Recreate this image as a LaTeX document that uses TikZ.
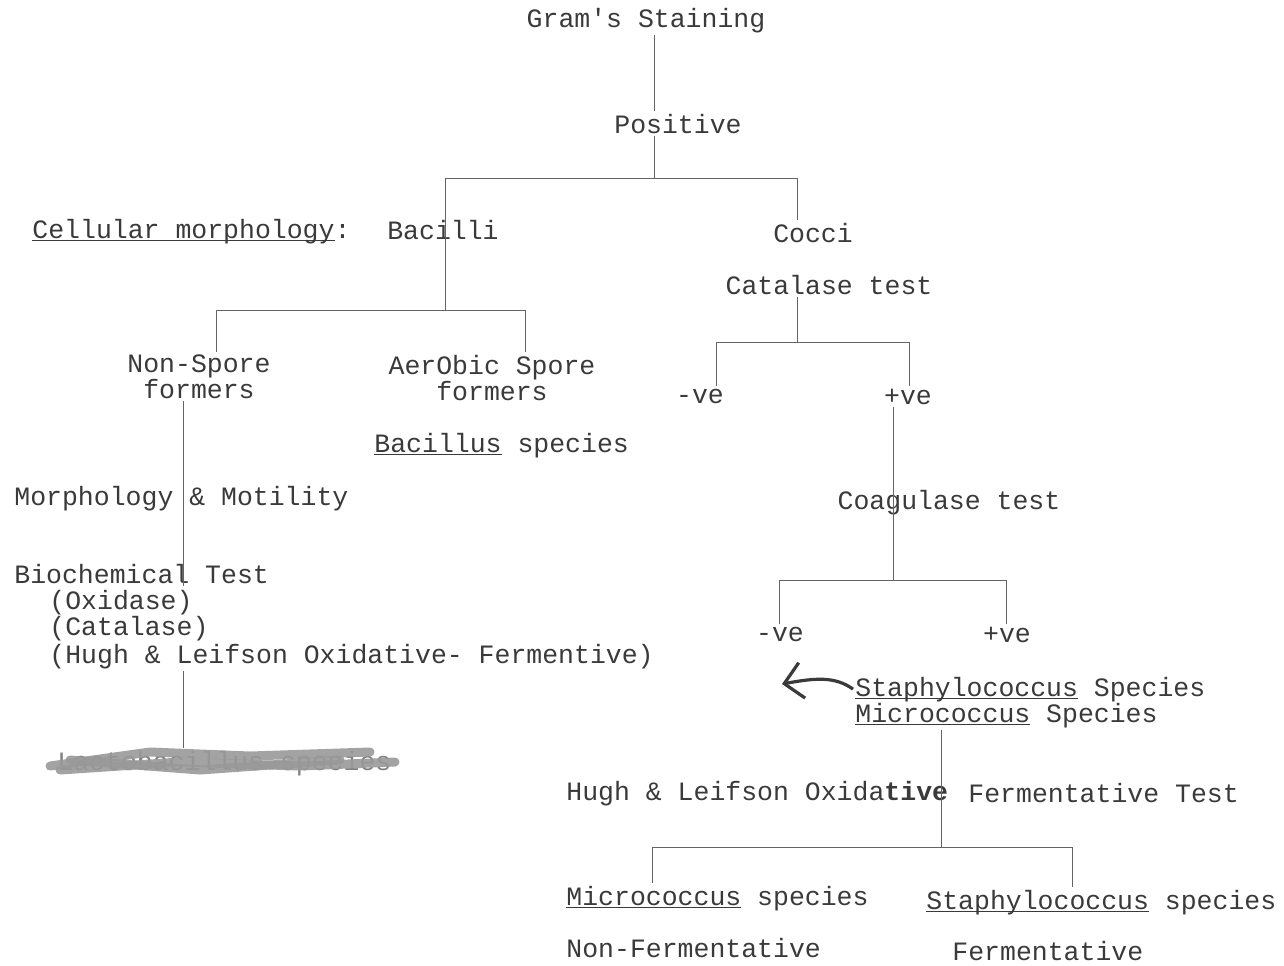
\documentclass[tikz,border=0pt]{standalone}
\usepackage{fontspec}
\usetikzlibrary{arrows.meta}
\newfontfamily\typewr{Liberation Mono}
\definecolor{ink}{HTML}{3A3A3A}
\definecolor{rulegray}{HTML}{646464}
\newcommand{\uln}[1]{\setbox0\hbox{#1}\rlap{\rule[-1.6pt]{\wd0}{0.45pt}}\box0\relax}

\begin{document}
\begin{tikzpicture}[x=0.5pt,y=-0.5pt,
  txt/.style={font=\typewr\fontsize{13.25}{13}\selectfont,text=ink,inner sep=1pt},
  link/.style={draw=rulegray,line width=0.5pt},
  handarrow/.style={draw=ink,line width=1.6pt,-{Straight Barb[length=9pt,width=18pt,line width=1.6pt]}},
  scribble/.style={draw=gray!80,line width=4.5pt,opacity=0.9,line cap=round}]
\useasboundingbox (0,0) rectangle (1284,965);
% top of the tree
\node[txt,anchor=base] (gram) at (646,27){Gram's Staining};
\node[txt,anchor=base] (pos) at (678,133){Positive};
\node[txt,anchor=base west] (cellm) at (30,238){\uln{Cellular morphology}:};
\node[txt,anchor=base] (bac) at (443,239){Bacilli};
\node[txt,anchor=base] (cocci) at (813,242){Cocci};
\coordinate (gsplit) at (654,178);
\coordinate (bsplit) at (445,178);
\coordinate (csplit) at (797,178);
\draw[link] (gram.south -| gsplit) -- (pos.north -| gsplit);
\draw[link] (pos.south -| gsplit) -- (gsplit);
\draw[link] (bsplit) -- (csplit);
\draw[link] (csplit) -- (cocci.north -| csplit);
% bacilli branch
\node[txt,anchor=base,align=center] (nsf) at (199,398){Non-Spore\\formers};
\node[txt,anchor=base,align=center] (asf) at (492,400){AerObic Spore\\formers};
\node[txt,anchor=base west] (bacsp) at (372,452){\uln{Bacillus} species};
\coordinate (nsplit) at (216,310);
\coordinate (asplit) at (525,310);
\coordinate (bdown) at (445,310);
\coordinate (trunk) at (183,0);
\draw[link] (bsplit) -- (bdown);
\draw[link] (nsplit) -- (asplit);
\draw[link] (nsplit) -- (nsf.north -| nsplit);
\draw[link] (asplit) -- (asf.north -| asplit);
\node[txt,anchor=base west] (morph) at (12,505){Morphology \& Motility};
\node[txt,anchor=base west] (bio) at (12,583){Biochemical Test};
\node[txt,anchor=base west] (oxi) at (47,609){(Oxidase)};
\node[txt,anchor=base west] (cata) at (47,635){(Catalase)};
\node[txt,anchor=base west] (hugh) at (47,663){(Hugh \& Leifson Oxidative- Fermentive)};
\node[txt,anchor=base west,text=gray] (lacto) at (55,770){Lactobacillus species};
\draw[link] (nsf.south -| trunk) -- (bio.south -| trunk);
\draw[link] (hugh.south -| trunk) -- (lacto.north -| trunk);
\draw[scribble] (50,766) -- (150,752) -- (250,756) -- (370,752);
\draw[scribble] (60,770) -- (180,762) -- (300,766) -- (395,762);
\draw[scribble] (70,760) -- (200,770) -- (340,760);
% cocci branch
\node[txt,anchor=base] (cat) at (829,294){Catalase test};
\node[txt,anchor=base] (neg1) at (700,403){-ve};
\node[txt,anchor=base] (pos1) at (908,404){+ve};
\coordinate (catsplit) at (797,342);
\coordinate (n1) at (716,342);
\coordinate (p1) at (909,342);
\draw[link] (cat.south -| catsplit) -- (catsplit);
\draw[link] (n1) -- (p1);
\draw[link] (n1) -- (neg1.north -| n1);
\draw[link] (p1) -- (pos1.north -| p1);
\node[txt,anchor=base] (coag) at (949,509){Coagulase test};
\node[txt,anchor=base] (neg2) at (780,641){-ve};
\node[txt,anchor=base] (pos2) at (1007,642){+ve};
\coordinate (coagsplit) at (893,580);
\coordinate (n2) at (779,580);
\coordinate (p2) at (1006,580);
\draw[link] (pos1.south -| coagsplit) -- (coagsplit);
\draw[link] (n2) -- (p2);
\draw[link] (n2) -- (neg2.north -| n2);
\draw[link] (p2) -- (pos2.north -| p2);
\node[txt,anchor=base west] (staph) at (853,696){\uln{Staphylococcus} Species};
\node[txt,anchor=base west] (micro) at (853,722){\uln{Micrococcus} Species};
\draw[handarrow] (staph.west) .. controls (835,676) and (815,678) .. (782,684);
\node[txt,anchor=base west] (hlt) at (564,800){Hugh \& Leifson Oxida\textbf{tive}};
\node[txt,anchor=base west] (fert) at (966,802){Fermentative Test};
\coordinate (hsplit) at (941,847);
\coordinate (m3) at (652,847);
\coordinate (s3) at (1072,847);
\draw[link] (micro.south -| hsplit) -- (hsplit);
\draw[link] (m3) -- (s3);
\node[txt,anchor=base west] (micsp) at (564,905){\uln{Micrococcus} species};
\node[txt,anchor=base west] (stasp) at (924,909){\uln{Staphylococcus} species};
\node[txt,anchor=base west] (nonf) at (564,957){Non-Fermentative};
\node[txt,anchor=base west] (ferm) at (950,960){Fermentative};
\draw[link] (m3) -- (micsp.north -| m3);
\draw[link] (s3) -- (stasp.north -| s3);
\end{tikzpicture}
\end{document}
